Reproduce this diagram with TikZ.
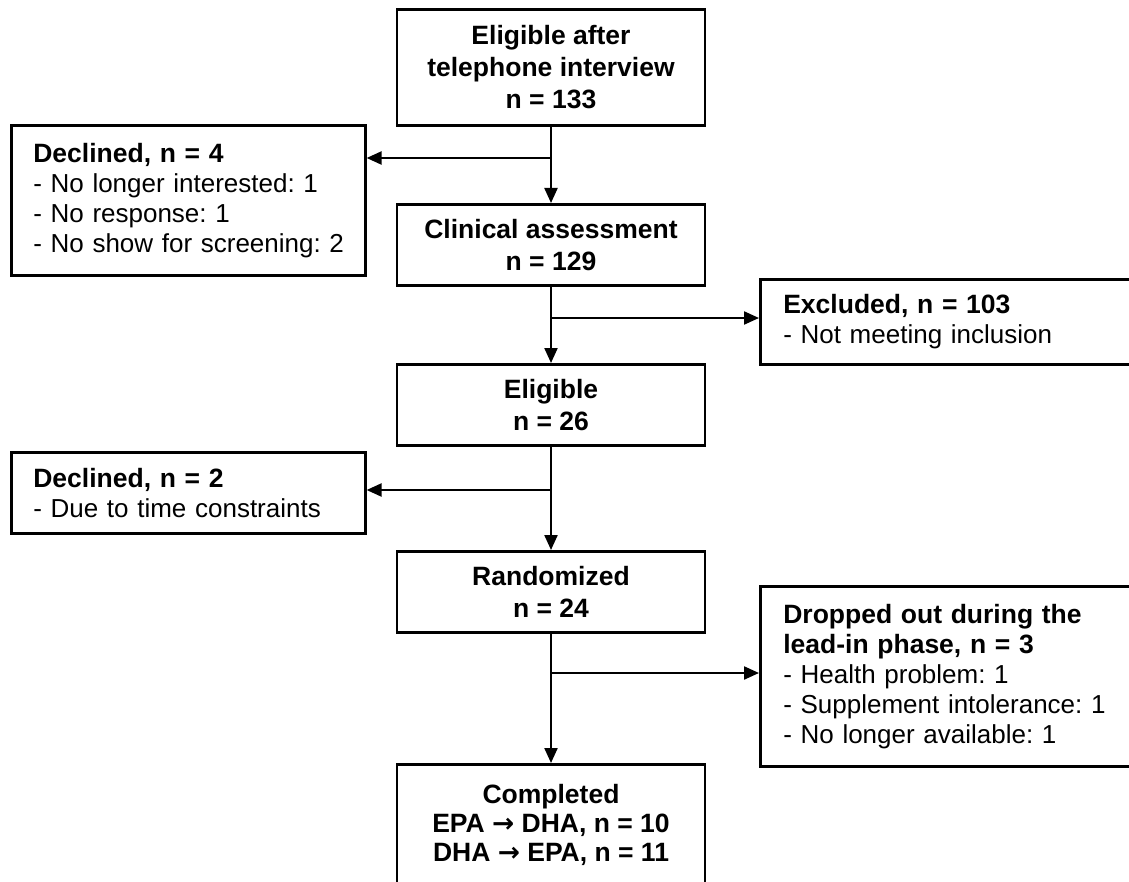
\documentclass[tikz,border=0pt]{standalone}
\usepackage{fontspec}
\setmainfont{Liberation Sans}
\newfontfamily\arrowfont{DejaVu Sans}
\usepackage{tikz}
\usetikzlibrary{arrows.meta,positioning,calc}
\frenchspacing

\begin{document}
\begin{tikzpicture}[x=0.5pt, y=-0.5pt,
  font=\fontsize{13}{15}\selectfont,
  mainbox/.style={draw, line width=1.3pt, minimum width=154pt,
                  minimum height=40.5pt, inner sep=0pt, align=center,
                  anchor=north, font=\fontsize{13.25}{16}\selectfont\bfseries},
  sidebox/.style={draw, line width=1.3pt, inner xsep=11pt, inner ysep=0pt,
                  text width=155pt, align=left, anchor=north west,
                  font=\fontsize{13}{15}\selectfont},
  widebox/.style={sidebox, inner xsep=11.5pt, text width=177.5pt},
  flow/.style={line width=1.1pt, -{Triangle[length=7.5pt,width=6.5pt]}}]

  \useasboundingbox (0,0) rectangle (1129,882);
  \clip (0,0) rectangle (1129,882);

  % main column
  \node[mainbox, minimum height=58pt] (phone) at (551,8)
    {Eligible after\\telephone interview\\n = 133};
  \node[mainbox] (clinical) at (551,203) {Clinical assessment\\n = 129};
  \node[mainbox] (eligible) at (551,363) {Eligible\\n = 26};
  \node[mainbox] (random) at (551,550) {Randomized\\n = 24};
  \node[mainbox, minimum height=61pt,
        font=\fontsize{13.25}{14.5}\selectfont\bfseries] (completed) at (551,763)
    {Completed\\EPA {\arrowfont\bfseries →} DHA, n = 10\\DHA {\arrowfont\bfseries →} EPA, n = 11};

  % side boxes
  \node[sidebox, minimum height=75pt] (decl1) at (10,124)
    {\textbf{\fontsize{13.25}{15}\selectfont Declined, n = 4}\\- No longer interested: 1\\- No response: 1\\\mbox{- No show for screening: 2}};
  \node[widebox, minimum height=42.5pt] (excl) at (759,278)
    {\textbf{\fontsize{13.25}{15}\selectfont Excluded, n = 103}\\- Not meeting inclusion};
  \node[sidebox, minimum height=40.5pt] (decl2) at (10,451)
    {\textbf{\fontsize{13.25}{15}\selectfont Declined, n = 2}\\- Due to time constraints};
  \node[widebox, minimum height=90pt] (drop) at (759,585)
    {\textbf{\fontsize{13.25}{15}\selectfont Dropped out during the}\\\textbf{\fontsize{13.25}{15}\selectfont lead-in phase, n = 3}\\- Health problem: 1\\- Supplement intolerance: 1\\- No longer available: 1};

  % branch points
  \coordinate (b1) at (551,158);
  \coordinate (b2) at (551,318);
  \coordinate (b3) at (551,490);
  \coordinate (b4) at (551,673);

  \draw[flow] (phone) -- (clinical);
  \draw[flow] (clinical) -- (eligible);
  \draw[flow] (eligible) -- (random);
  \draw[flow] (random) -- (completed);

  \draw[flow] (b1) -- (b1 -| decl1.east);
  \draw[flow] (b2) -- (b2 -| excl.west);
  \draw[flow] (b3) -- (b3 -| decl2.east);
  \draw[flow] (b4) -- (b4 -| drop.west);
\end{tikzpicture}
\end{document}
